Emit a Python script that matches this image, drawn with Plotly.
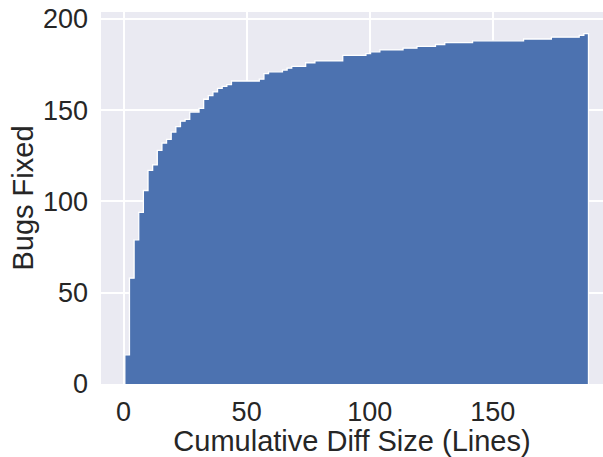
import plotly.graph_objects as go

# Histogram bins (data units)
bin_start = 0.5
bin_width = 1.884

# Cumulative bugs fixed per bin (100 bins)
cumulative_bugs = [
    16, 58, 79, 94, 106, 117, 120, 128, 132, 134,
    138, 141, 144, 145, 149, 149, 151, 156, 158, 160,
    162, 163, 164, 166, 166, 166, 166, 166, 166, 167,
    170, 171, 171, 171, 172, 173, 174, 174, 174, 176,
    176, 177, 177, 177, 177, 177, 177, 180, 180, 180,
    180, 180, 181, 182, 182, 183, 183, 183, 183, 183,
    184, 184, 184, 185, 185, 185, 185, 186, 186, 187,
    187, 187, 187, 187, 187, 188, 188, 188, 188, 188,
    188, 188, 188, 188, 188, 188, 189, 189, 189, 189,
    189, 189, 190, 190, 190, 190, 190, 190, 191, 192,
]

x_ticks = [0, 50, 100, 150]
y_ticks = [0, 50, 100, 150, 200]

n = len(cumulative_bugs)
edges = [bin_start + bin_width * i for i in range(n + 1)]
xs = [edges[0]] + edges[:n] + [edges[n], edges[n]]
ys = [0] + cumulative_bugs + [cumulative_bugs[-1], 0]

fig = go.Figure()
fig.add_trace(go.Scatter(
    x=xs, y=ys, mode="lines",
    line=dict(shape="hv", color="white", width=1.3),
    fill="tozeroy", fillcolor="#4C72B0",
    hoverinfo="skip", showlegend=False,
))

font_family = "Liberation Sans, Arial, sans-serif"
fig.update_layout(
    width=603, height=457,
    margin=dict(l=101, r=0, t=12, b=73, pad=0),
    paper_bgcolor="white",
    plot_bgcolor="#EAEAF2",
    font=dict(family=font_family, color="#262626"),
    xaxis=dict(
        range=[-9.18, 194.8],
        tickvals=x_ticks,
        automargin=False,
        showgrid=True, gridcolor="white", gridwidth=2,
        zeroline=False, showline=False, ticks="",
        tickfont=dict(size=27, color="#262626"),
        ticklabelstandoff=9,
        title=dict(text="Cumulative Diff Size (Lines)", font=dict(size=29, color="#262626"), standoff=0),
    ),
    yaxis=dict(
        range=[0, 203.8],
        tickvals=y_ticks,
        automargin=False,
        showgrid=True, gridcolor="white", gridwidth=2,
        zeroline=False, showline=False, ticks="",
        tickfont=dict(size=27, color="#262626"),
        ticklabelstandoff=12,
        title=dict(text="Bugs Fixed", font=dict(size=29, color="#262626"), standoff=0),
    ),
)

fig.write_html(
    "out.html",
    config={"displayModeBar": False},
    post_script="document.body.style.margin='0';document.body.style.padding='0';",
)
